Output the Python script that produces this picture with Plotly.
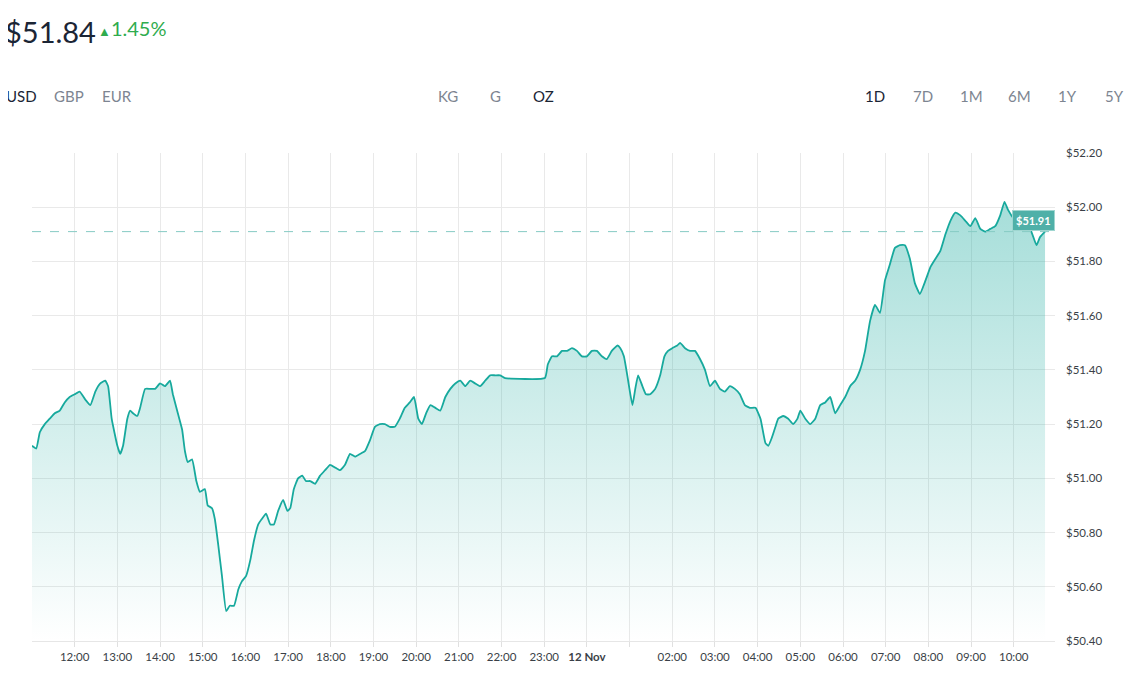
import plotly.graph_objects as go
from datetime import datetime, timedelta

minutes = [0,6,11,18,25,32,39,46,53,60,67,75,82,89,96,103,107,112,120,124,128,134,138,142,148,152,159,166,173,180,187,194,198,205,211,215,219,225,231,236,243,247,253,257,262,267,273,278,284,290,295,301,307,312,318,323,329,335,340,346,353,359,363,368,374,380,385,391,398,405,412,419,426,433,440,447,454,461,468,475,482,489,496,503,510,517,524,531,537,543,548,554,560,567,574,581,588,595,602,609,616,623,630,637,644,651,658,665,721,725,731,738,745,752,759,766,773,780,787,794,801,808,815,823,827,832,838,844,848,852,858,863,869,876,883,889,894,900,907,911,918,925,932,939,946,953,960,967,974,981,988,995,1002,1009,1017,1024,1031,1035,1040,1045,1049,1056,1063,1070,1076,1080,1087,1094,1101,1108,1115,1122,1129,1136,1143,1150,1157,1164,1171,1178,1185,1192,1199,1206,1213,1220,1227,1234,1241,1248,1256,1263,1270,1277,1284,1291,1298,1305,1312,1319,1326,1333,1340,1347,1354,1361,1367,1372,1382,1389,1396,1403,1412,1417,1424]
prices = [51.12,51.11,51.17,51.20,51.22,51.24,51.25,51.28,51.30,51.31,51.32,51.29,51.27,51.32,51.35,51.36,51.34,51.22,51.12,51.09,51.12,51.22,51.25,51.24,51.23,51.26,51.33,51.33,51.33,51.35,51.34,51.36,51.31,51.24,51.18,51.10,51.06,51.07,50.99,50.95,50.96,50.90,50.89,50.85,50.75,50.64,50.51,50.53,50.53,50.59,50.62,50.64,50.70,50.77,50.83,50.85,50.87,50.83,50.83,50.88,50.92,50.88,50.89,50.96,51.00,51.01,50.99,50.99,50.98,51.01,51.03,51.05,51.04,51.03,51.05,51.09,51.08,51.09,51.10,51.14,51.19,51.20,51.20,51.19,51.19,51.22,51.26,51.28,51.30,51.22,51.20,51.24,51.27,51.26,51.25,51.30,51.33,51.35,51.36,51.34,51.36,51.35,51.34,51.36,51.38,51.38,51.38,51.37,51.37,51.42,51.45,51.45,51.47,51.47,51.48,51.47,51.45,51.45,51.47,51.47,51.45,51.44,51.47,51.49,51.48,51.45,51.36,51.27,51.33,51.38,51.34,51.31,51.31,51.33,51.38,51.45,51.47,51.48,51.49,51.50,51.48,51.47,51.47,51.44,51.40,51.34,51.36,51.33,51.32,51.34,51.33,51.31,51.27,51.26,51.26,51.22,51.13,51.12,51.15,51.19,51.22,51.23,51.22,51.20,51.22,51.25,51.22,51.20,51.22,51.27,51.28,51.30,51.24,51.27,51.30,51.34,51.36,51.40,51.47,51.58,51.64,51.61,51.73,51.79,51.85,51.86,51.86,51.81,51.72,51.68,51.73,51.78,51.81,51.84,51.90,51.95,51.98,51.97,51.95,51.93,51.96,51.92,51.91,51.92,51.93,51.97,52.02,51.99,51.95,51.93,51.92,51.92,51.86,51.89,51.91]

start = datetime(2024, 11, 11, 11, 0)
times = [start + timedelta(minutes=m) for m in minutes]
last_price = prices[-1]

tick_times = [datetime(2024, 11, 11, h) for h in range(12, 24)] + [datetime(2024, 11, 12, h) for h in range(0, 11)]
tick_text = ["12:00","13:00","14:00","15:00","16:00","17:00","18:00","19:00","20:00","21:00","22:00","23:00",
             "<b>12 Nov</b>","","02:00","03:00","04:00","05:00","06:00","07:00","08:00","09:00","10:00"]
y_ticks = [50.4,50.6,50.8,51.0,51.2,51.4,51.6,51.8,52.0,52.2]

TEAL = "#17a99d"
FONT = "Lato"
OFF = 8  # page body margin
L, R, T, B, W, H = 32, 82, 153, 39, 1137, 680
PW, PH = W - L - R, H - T - B
def px(x): return (x - L) / PW
def py(y): return 1 + (T - y) / PH

fig = go.Figure()
fig.add_trace(go.Scatter(
    x=times, y=prices, mode="lines", line=dict(color=TEAL, width=1.8, shape="spline", smoothing=0.4),
    fill="tozeroy",
    fillgradient=dict(type="vertical", start=50.4, stop=52.0,
                      colorscale=[[0, "rgba(23,169,157,0.0)"], [1, "rgba(23,169,157,0.38)"]]),
    hoverinfo="skip", showlegend=False))

fig.add_shape(type="line", xref="paper", x0=0, x1=1, y0=last_price, y1=last_price,
              line=dict(color="#86cbc4", width=1, dash="dash"))

ann = []
ann.append(dict(xref="paper", yref="y", x=1.0, y=last_price, xanchor="right", yanchor="bottom", yshift=1,
                text="<b>$%.2f</b>" % last_price, showarrow=False, bgcolor="#4fb0a8",
                font=dict(color="white", size=11, family=FONT), borderpad=3, bordercolor="#9fd6d0", borderwidth=1))
ann.append(dict(xref="paper", yref="paper", x=px(3), y=py(32), xanchor="left", yanchor="middle",
                text="$51.84", showarrow=False, font=dict(size=29, color="#1b2535", family=FONT)))
ann.append(dict(xref="paper", yref="paper", x=px(96), y=py(28), xanchor="left", yanchor="middle",
                text="<span style='font-size:13px'>▲</span>1.45%", showarrow=False,
                font=dict(size=20, color="#2fac4e", family=FONT)))
for label, x, c in [("USD", 4, "#1b2535"), ("GBP", 52, "#7d8591"), ("EUR", 100, "#7d8591")]:
    ann.append(dict(xref="paper", yref="paper", x=px(x), y=py(96), xanchor="left", yanchor="middle",
                    text=label, showarrow=False, font=dict(size=15, color=c, family=FONT)))
for label, x, c in [("KG", 448, "#7d8591"), ("G", 495, "#7d8591"), ("OZ", 543, "#1b2535")]:
    ann.append(dict(xref="paper", yref="paper", x=px(x), y=py(96), xanchor="center", yanchor="middle",
                    text=label, showarrow=False, font=dict(size=15, color=c, family=FONT)))
for label, x, c in [("1D", 875, "#1b2535"), ("7D", 923, "#7d8591"), ("1M", 971, "#7d8591"),
                    ("6M", 1019, "#7d8591"), ("1Y", 1067, "#7d8591"), ("5Y", 1114, "#7d8591")]:
    ann.append(dict(xref="paper", yref="paper", x=px(x), y=py(96), xanchor="center", yanchor="middle",
                    text=label, showarrow=False, font=dict(size=15, color=c, family=FONT)))

fig.update_layout(
    width=W - OFF, height=H - OFF, margin=dict(l=L - OFF, r=R, t=T - OFF, b=B),
    paper_bgcolor="white", plot_bgcolor="white", annotations=ann,
    xaxis=dict(range=[start, start + timedelta(minutes=1438)], tickvals=tick_times, ticktext=tick_text,
               showgrid=True, gridcolor="#e9e9e9", gridwidth=1, ticks="outside", ticklen=5, tickcolor="#e0e0e0",
               showline=True, linecolor="#e6e6e6", zeroline=False,
               tickfont=dict(size=11.5, color="#3a3f47", family=FONT)),
    yaxis=dict(range=[50.4, 52.2], tickvals=y_ticks, ticktext=["$%.2f" % v for v in y_ticks], side="right",
               showgrid=True, gridcolor="#e9e9e9", zeroline=False, ticks="", ticklabelstandoff=10,
               tickfont=dict(size=11.5, color="#3a3f47", family=FONT)),
)
fig.write_html("out.html")
